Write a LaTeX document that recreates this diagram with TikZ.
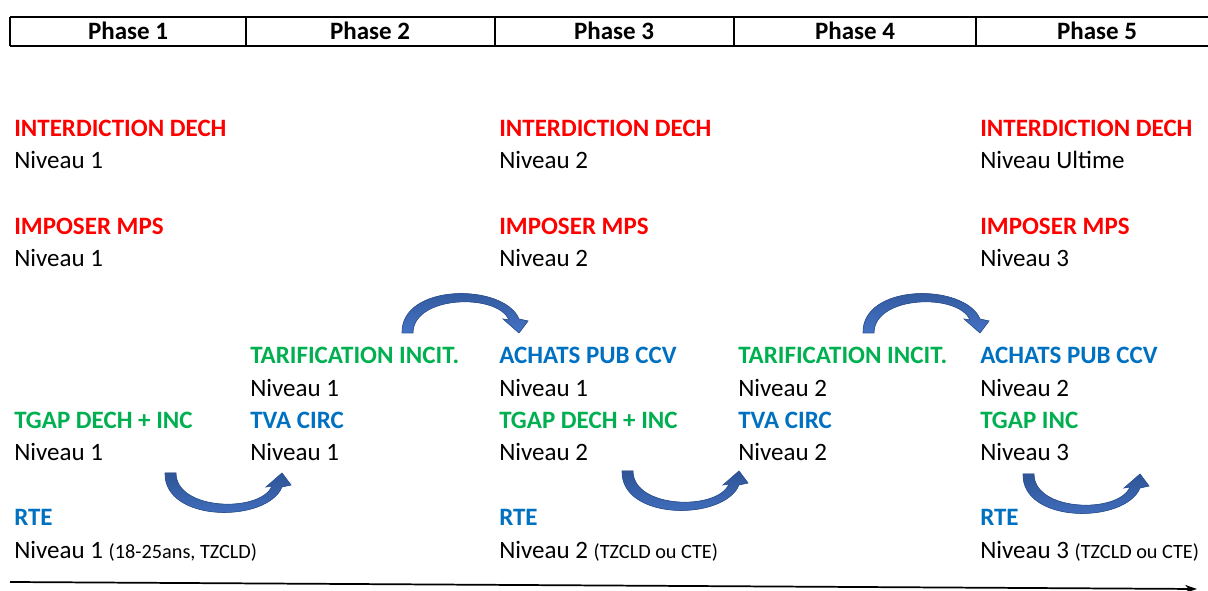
\documentclass[tikz,border=0pt]{standalone}
\usepackage{fontspec}
\setmainfont{Carlito}
\usetikzlibrary{arrows.meta}
\definecolor{cred}{HTML}{FF0000}
\definecolor{cgreen}{HTML}{00B050}
\definecolor{cblue}{HTML}{0070C0}
\definecolor{arrfill}{HTML}{4472C4}
\definecolor{arrdark}{HTML}{2F5597}
\tikzset{
  base/.style={anchor=base west,inner sep=0pt,font=\fontsize{18.75}{22}\selectfont},
  title/.style={base,font=\fontsize{18.75}{22}\selectfont\bfseries},
  red/.style={title,text=cred},
  green/.style={title,text=cgreen},
  blue/.style={title,text=cblue},
  lvl/.style={base,text=black},
  head/.style={anchor=base,inner sep=0pt,font=\fontsize{18.75}{22}\selectfont\bfseries},
  grid/.style={line width=1.5pt,black},
  bentarrow/.pic={
    \fill[top color=arrdark,bottom color=arrfill,draw=arrdark,line width=0.5pt]
      (0,0) -- (11,0) .. controls (11,38) and (96,40) .. (107,13)
      -- (101,14) -- (117,0) -- (126,12) -- (117,14)
      .. controls (102,50) and (-1,50) .. (0,0) -- cycle;
  }
}
\newcommand{\smalltxt}[1]{{\fontsize{15.2}{18}\selectfont #1}}
\begin{document}
\begin{tikzpicture}[x=0.75pt,y=-0.75pt]
\useasboundingbox (0,0) rectangle (1208,591);
% header table
\draw[grid] (10,17) -- (1212,17);
\draw[grid] (10,46) -- (1212,46);
\foreach \xx in {10,246,495,734,976}{\draw[grid] (\xx,17) -- (\xx,46);}
\node[head] (h1) at (128,40) {Phase 1};
\node[head] (h2) at (370,40) {Phase 2};
\node[head] (h3) at (614,40) {Phase 3};
\node[head] (h4) at (855,40) {Phase 4};
\node[head] (h5) at (1097,40) {Phase 5};
% column 1
\node[red] (c1a) at (14,137) {INTERDICTION DECH};
\node[lvl] (c1b) at (14,169) {Niveau 1};
\node[red] (c1c) at (14,235) {IMPOSER MPS};
\node[lvl] (c1d) at (14,267) {Niveau 1};
\node[green] (c1e) at (14,429) {TGAP DECH + INC};
\node[lvl] (c1f) at (14,461) {Niveau 1};
\node[blue] (c1g) at (14,526) {RTE};
\node[lvl] (c1h) at (14,559) {Niveau 1 \smalltxt{(18-25ans, TZCLD)}};
% column 2
\node[green] (c2a) at (250,364) {TARIFICATION INCIT.};
\node[lvl] (c2b) at (250,397) {Niveau 1};
\node[blue] (c2c) at (250,429) {TVA CIRC};
\node[lvl] (c2d) at (250,461) {Niveau 1};
% column 3
\node[red] (c3a) at (499,137) {INTERDICTION DECH};
\node[lvl] (c3b) at (499,169) {Niveau 2};
\node[red] (c3c) at (499,235) {IMPOSER MPS};
\node[lvl] (c3d) at (499,267) {Niveau 2};
\node[blue] (c3e) at (499,364) {ACHATS PUB CCV};
\node[lvl] (c3f) at (499,397) {Niveau 1};
\node[green] (c3g) at (499,429) {TGAP DECH + INC};
\node[lvl] (c3h) at (499,461) {Niveau 2};
\node[blue] (c3i) at (499,526) {RTE};
\node[lvl] (c3j) at (499,559) {Niveau 2 \smalltxt{(TZCLD ou CTE)}};
% column 4
\node[green] (c4a) at (738,364) {TARIFICATION INCIT.};
\node[lvl] (c4b) at (738,397) {Niveau 2};
\node[blue] (c4c) at (738,429) {TVA CIRC};
\node[lvl] (c4d) at (738,461) {Niveau 2};
% column 5
\node[red] (c5a) at (980,137) {INTERDICTION DECH};
\node[lvl] (c5b) at (980,169) {Niveau Ultime};
\node[red] (c5c) at (980,235) {IMPOSER MPS};
\node[lvl] (c5d) at (980,267) {Niveau 3};
\node[blue] (c5e) at (980,364) {ACHATS PUB CCV};
\node[lvl] (c5f) at (980,397) {Niveau 2};
\node[green] (c5g) at (980,429) {TGAP INC};
\node[lvl] (c5h) at (980,461) {Niveau 3};
\node[blue] (c5i) at (980,526) {RTE};
\node[lvl] (c5j) at (980,559) {Niveau 3 \smalltxt{(TZCLD ou CTE)}};
% curved arrows
\pic at (165,473) {bentarrow};
\pic at (622,471) {bentarrow};
\pic at (1023,474) {bentarrow};
\pic[yscale=-1] at (402,333) {bentarrow};
\pic[yscale=-1] at (863,333) {bentarrow};
% time axis
\coordinate (axL) at (10,582);
\coordinate (axR) at (1197,589);
\draw[line width=1.3pt,-{Stealth[length=9pt,width=6pt]}] (axL) -- (axR);
\end{tikzpicture}
\end{document}
